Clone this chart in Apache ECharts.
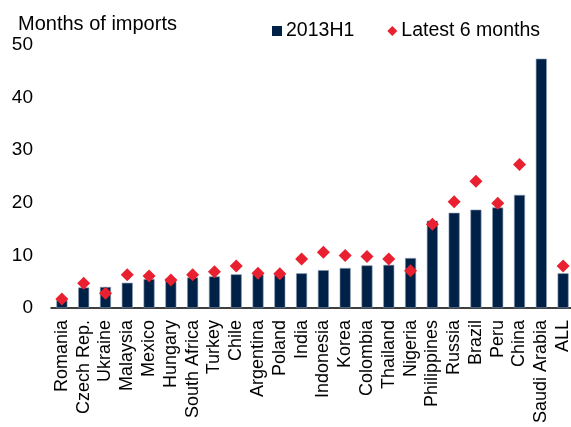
<!DOCTYPE html>
<html>
<head>
<meta charset="utf-8">
<script src="https://cdn.jsdelivr.net/npm/echarts@6/dist/echarts.min.js"></script>
<style>
html, body { margin: 0; padding: 0; background: #fff; }
#chart { width: 571px; height: 427px; }
</style>
</head>
<body>
<div id="chart"></div>
<script>
var dom = document.getElementById("chart");
var myChart = echarts.init(dom);

var countries = ['Romania', 'Czech Rep.', 'Ukraine', 'Malaysia', 'Mexico', 'Hungary', 'South Africa',
    'Turkey', 'Chile', 'Argentina', 'Poland', 'India', 'Indonesia', 'Korea', 'Colombia', 'Thailand',
    'Nigeria', 'Philippines', 'Russia', 'Brazil', 'Peru', 'China', 'Saudi Arabia', 'ALL'];
var h1_2013 = [1.5, 3.9, 4.0, 4.8, 5.5, 5.6, 5.8, 6.0, 6.4, 6.4, 6.3, 6.6, 7.2, 7.6, 8.1, 8.2,
    9.5, 16.6, 18.1, 18.7, 19.1, 21.5, 47.4, 6.6];
var latest6m = [1.7, 4.7, 2.8, 6.3, 6.1, 5.3, 6.3, 6.9, 8.0, 6.6, 6.5, 9.3, 10.6, 10.0, 9.8, 9.3,
    7.1, 15.9, 20.2, 24.1, 19.9, 27.3, null, 8.0];
var yTicks = [0, 10, 20, 30, 40, 50];

var font = 'Liberation Sans, Arial, sans-serif';

var option = {
    animation: false,
    title: {
        text: 'Months of imports',
        left: 13,
        top: 9,
        textStyle: { fontFamily: font, fontSize: 20, fontWeight: 'normal', color: '#000' }
    },
    legend: {
        left: 267,
        top: 16,
        itemWidth: 10,
        itemHeight: 10,
        itemGap: 33,
        itemStyle: { borderWidth: 0 },
        textStyle: { fontFamily: font, fontSize: 19.5, color: '#000', padding: [0, 0, 0, -1] },
        data: [
            { name: '2013H1', icon: 'rect' },
            { name: 'Latest 6 months', icon: 'diamond' }
        ]
    },
    grid: {
        left: 51,
        top: 45,
        width: 523,
        height: 263,
        outerBoundsMode: 'none'
    },
    xAxis: {
        type: 'category',
        data: countries,
        axisLine: { lineStyle: { color: '#000', width: 1.5 } },
        axisTick: { show: false },
        axisLabel: {
            rotate: 90,
            interval: 0,
            margin: 12,
            fontFamily: font,
            fontSize: 18,
            color: '#000'
        }
    },
    yAxis: {
        type: 'value',
        min: yTicks[0],
        max: yTicks[yTicks.length - 1],
        interval: 10,
        axisLine: { show: false },
        axisTick: { show: false },
        splitLine: { show: false },
        axisLabel: { margin: 18, fontFamily: font, fontSize: 19, color: '#000' }
    },
    series: [
        {
            name: '2013H1',
            type: 'bar',
            data: h1_2013,
            barWidth: 11,
            itemStyle: { color: '#002147', borderColor: '#8a9bb0', borderWidth: 0.6 }
        },
        {
            name: 'Latest 6 months',
            type: 'scatter',
            data: latest6m,
            symbol: 'diamond',
            symbolSize: 13,
            itemStyle: { color: '#e8202f', opacity: 1 },
            z: 5
        }
    ]
};

myChart.setOption(option, true);
</script>
</body>
</html>
